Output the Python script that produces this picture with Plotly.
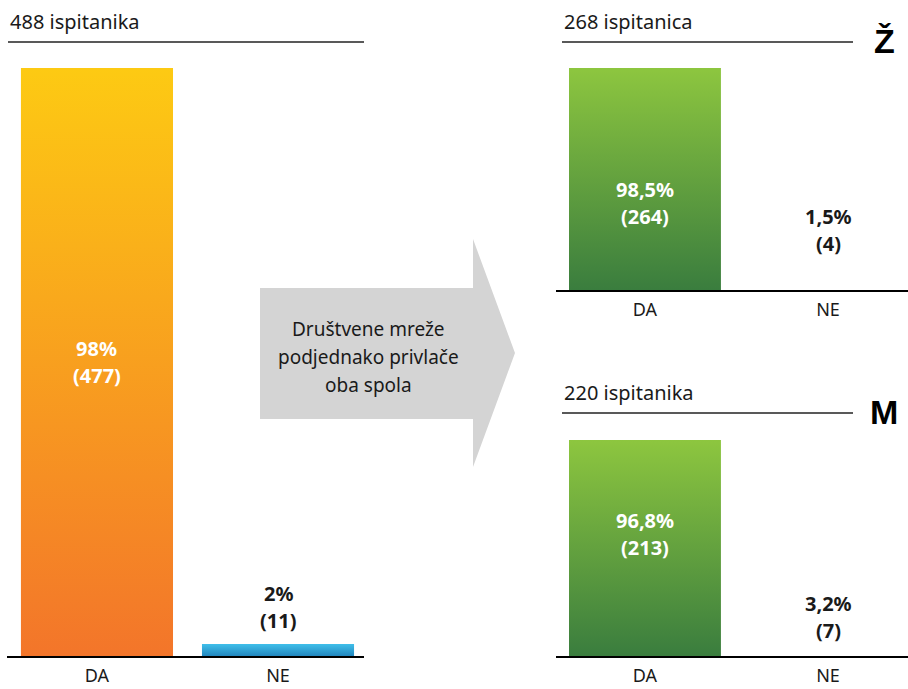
import plotly.graph_objects as go

# ---- data ----
categories = ["DA", "NE"]

ukupno_title = "488 ispitanika"
ukupno_pct = [98, 2]
ukupno_n = [477, 11]

zene_title = "268 ispitanica"
zene_pct = [98.5, 1.5]
zene_n = [264, 4]

muskarci_title = "220 ispitanika"
muskarci_pct = [96.8, 3.2]
muskarci_n = [213, 7]

arrow_lines = ["Društvene mreže", "podjednako privlače", "oba spola"]

# ---- styling ----
W, H = 908, 689
FONT = "Noto Sans"
TXT = "#1a1a1a"
ORANGE = [[0, "#F3752A"], [1, "#FDCA13"]]
BLUE = [[0, "#2287BF"], [1, "#40BFEA"]]
GREEN = [[0, "#3A7D3E"], [1, "#8DC63F"]]


def px_x(p):
    return p / W


def px_y(p):
    return 1 - p / H


def fmt_pct(v):
    return f"{v:g}".replace(".", ",") + "%"


fig = go.Figure()


def gradient_bar(pos, value, width, scale, xa, ya):
    x0, x1 = pos - width / 2, pos + width / 2
    fig.add_trace(go.Scatter(
        x=[x0, x1, x1, x0, x0], y=[0, 0, value, value, 0],
        mode="lines", line=dict(width=0), fill="toself",
        fillgradient=dict(type="vertical", colorscale=scale, start=0, stop=value),
        hoverinfo="skip", showlegend=False, xaxis=xa, yaxis=ya,
    ))


def value_label(pos, y, pct, n, xa, ya, color):
    for text, shift in ((fmt_pct(pct), 13.5), (f"({n})", -13.5)):
        fig.add_annotation(
            x=pos, y=y, xref=xa, yref=ya, text=f"<b>{text}</b>", showarrow=False,
            yshift=shift, font=dict(family=FONT, size=20, color=color),
        )


# left chart: all respondents
bw_left = 0.84
gradient_bar(0, ukupno_pct[0], bw_left, ORANGE, "x", "y")
gradient_bar(1, ukupno_pct[1], bw_left, BLUE, "x", "y")
value_label(0, ukupno_pct[0] / 2, ukupno_pct[0], ukupno_n[0], "x", "y", "white")
value_label(1, 8.2, ukupno_pct[1], ukupno_n[1], "x", "y", TXT)

# right charts: women (top) and men (bottom)
bw_right = 0.83
gradient_bar(0, zene_pct[0], bw_right, GREEN, "x2", "y2")
value_label(0, 38.6, zene_pct[0], zene_n[0], "x2", "y2", "white")
value_label(1, 26.8, zene_pct[1], zene_n[1], "x2", "y2", TXT)

gradient_bar(0, muskarci_pct[0], bw_right, GREEN, "x3", "y3")
value_label(0, 54.5, muskarci_pct[0], muskarci_n[0], "x3", "y3", "white")
value_label(1, 17.5, muskarci_pct[1], muskarci_n[1], "x3", "y3", TXT)

xaxis_common = dict(
    tickvals=[0, 1], ticktext=categories, showgrid=False, zeroline=False,
    showline=True, linecolor="black", linewidth=2, ticks="",
    ticklabelstandoff=2, tickfont=dict(family=FONT, size=18, color=TXT),
    fixedrange=True, automargin=False,
)
yaxis_common = dict(visible=False, fixedrange=True, automargin=False)

fig.update_layout(
    width=W, height=H, margin=dict(l=0, r=0, t=0, b=0),
    paper_bgcolor="white", plot_bgcolor="rgba(0,0,0,0)", showlegend=False,
    xaxis=dict(xaxis_common, domain=[px_x(7), px_x(364)], range=[-0.497, 1.475], anchor="y"),
    yaxis=dict(yaxis_common, domain=[px_y(656), px_y(42)], range=[0, 102.33]),
    xaxis2=dict(xaxis_common, domain=[px_x(556), 1], range=[-0.486, 1.437], anchor="y2"),
    yaxis2=dict(yaxis_common, domain=[px_y(290), px_y(42)], range=[0, 110.0]),
    xaxis3=dict(xaxis_common, domain=[px_x(556), 1], range=[-0.486, 1.437], anchor="y3"),
    yaxis3=dict(yaxis_common, domain=[px_y(656), px_y(413)], range=[0, 108.9]),
)

# group titles with their rules
for title, x0, x1, ytext, yrule in (
    (ukupno_title, 8, 364, 21, 42),
    (zene_title, 562, 853, 21, 42),
    (muskarci_title, 562, 853, 392, 413),
):
    fig.add_annotation(x=px_x(x0), y=px_y(ytext), xref="paper", yref="paper",
                       text=title, showarrow=False, xanchor="left", yanchor="middle",
                       font=dict(family=FONT, size=20, color=TXT))
    fig.add_shape(type="line", xref="paper", yref="paper",
                  x0=px_x(x0), x1=px_x(x1), y0=px_y(yrule), y1=px_y(yrule),
                  line=dict(color="#222222", width=1.5))

# gender markers
for letter, ycen in (("Ž", 41), ("M", 412)):
    fig.add_annotation(x=px_x(884), y=px_y(ycen), xref="paper", yref="paper",
                       text=f"<b>{letter}</b>", showarrow=False,
                       xanchor="center", yanchor="middle",
                       font=dict(family="Liberation Sans", size=34, color="black"))

# arrow with caption
pts = [(260, 288), (473, 288), (473, 239), (515, 353), (473, 467),
       (473, 419), (260, 419)]
path = "M " + " L ".join(f"{px_x(a):.5f},{px_y(b):.5f}" for a, b in pts) + " Z"
fig.add_shape(type="path", xref="paper", yref="paper", path=path,
              fillcolor="#D4D4D4", line=dict(width=0), layer="below")
for i, line in enumerate(arrow_lines):
    fig.add_annotation(x=px_x(368), y=px_y(329 + 28 * i), xref="paper", yref="paper",
                       text=line, showarrow=False, xanchor="center", yanchor="middle",
                       font=dict(family=FONT, size=19, color=TXT))

fig.write_html("out.html")
